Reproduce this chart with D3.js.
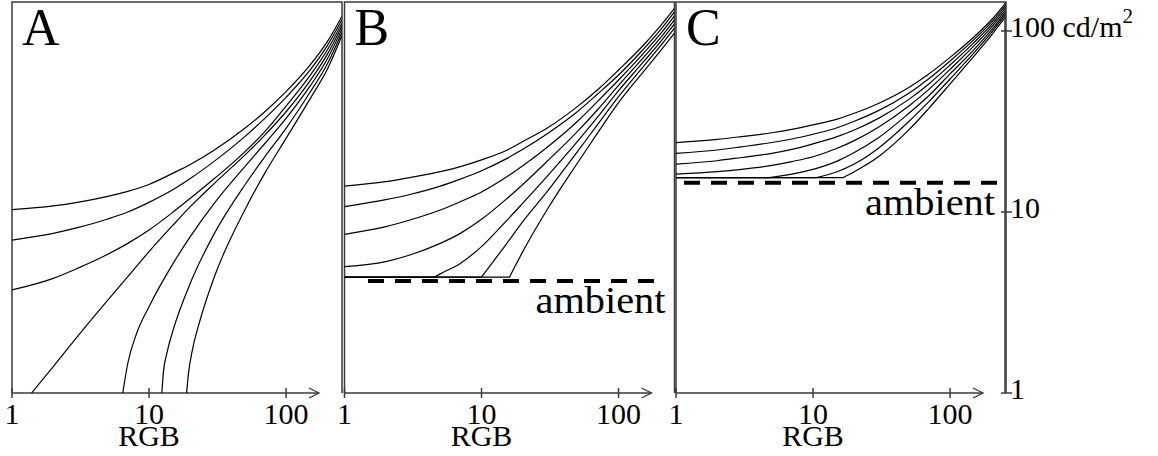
<!DOCTYPE html>
<html>
<head>
<meta charset="utf-8">
<script src="https://cdn.jsdelivr.net/npm/d3@7"></script>
<style>
  body { margin: 0; background: #fff; }
  text { font-family: "Liberation Serif", "Times New Roman", serif; fill: #000; }
</style>
</head>
<body>
<div id="chart"></div>
<script>
// tick values
const rgbTicks = [1, 10, 100];
const lumTicks = [1, 10, 100];
const panelNames = ["A", "B", "C"];

// ambient level per panel (cd/m2), null = none
const ambient = [null, 4.16, 14.5];

// curves: [RGB, cd/m2]
const curvesA = [
  [[1,10.3],[2,10.8],[3,11.3],[5,12.2],[7,13.0],[10,14.2],[15,16.4],[20,18.3],[30,22.0],[50,29.0],[70,35.8],[100,46.2],[150,64.9],[200,87.3],[255,120]],
  [[1,7.0],[2,7.62],[3,8.19],[5,9.15],[7,10.0],[10,11.3],[15,13.3],[20,15.3],[30,19.1],[50,26.1],[70,32.9],[100,43.0],[150,60.9],[200,83.0],[255,115]],
  [[1,3.71],[2,4.30],[3,4.88],[5,5.84],[7,6.71],[10,7.95],[15,10.0],[20,11.9],[30,15.3],[50,21.5],[70,27.8],[100,38.5],[150,56.9],[200,78.5],[255,110]],
  [[1.39,1],[2,1.40],[3,2.05],[5,3.26],[7,4.39],[10,6.04],[15,8.48],[20,10.7],[30,14.4],[50,20.6],[70,26.6],[100,35.8],[150,53.2],[200,74.3],[255,106]],
  [[6.43,1],[7,1.46],[8.13,2.14],[10,3.0],[15,5.2],[20,7.31],[30,11.2],[50,17.8],[70,23.9],[100,32.9],[150,49.7],[200,70.0],[255,102]],
  [[12.4,1],[12.7,1.28],[13.5,1.66],[15,2.23],[20,4.04],[30,7.62],[50,14.1],[70,20.2],[100,29.0],[150,46.0],[200,65.7],[255,97.9]],
  [[18.8,1],[19.4,1.28],[20.5,1.66],[23.6,2.53],[30,4.39],[50,10.26],[70,16.4],[100,25.5],[150,42.3],[200,61.4],[255,93.8]]
];

const curvesB = [
  [[1,13.9],[2,14.7],[3,15.5],[5,16.7],[7,17.8],[10,19.4],[15,21.8],[20,24.5],[30,29.0],[50,38.2],[70,47.2],[100,60.9],[150,82.6],[200,105.7],[255,133]],
  [[1,10.7],[2,11.7],[3,12.5],[5,13.9],[7,15.2],[10,16.9],[15,19.6],[20,22.2],[30,27.0],[50,35.8],[70,44.7],[100,57.1],[150,78.5],[200,100.4],[255,127]],
  [[1,7.53],[2,8.30],[3,9.03],[5,10.26],[7,11.4],[10,12.9],[15,15.5],[20,18.0],[30,22.7],[50,31.6],[70,40.7],[100,53.6],[150,74.6],[200,95.5],[255,121]],
  [[1,4.99],[2,5.32],[3,5.79],[5,6.71],[7,7.62],[10,9.11],[15,11.7],[20,14.2],[30,19.0],[50,27.8],[70,36.6],[100,50.1],[150,70.6],[200,90.7],[255,115]],
  [[1,4.37],[4.54,4.37],[5,4.55],[7,5.2],[10,6.44],[15,8.84],[20,11.2],[30,15.7],[50,24.5],[70,33.3],[100,46.8],[150,66.8],[200,86.2],[255,109]],
  [[1,4.37],[10,4.37],[15,6.57],[20,8.84],[30,12.9],[50,21.5],[70,30.3],[100,43.4],[150,63.0],[200,81.9],[255,103.5]],
  [[1,4.37],[16,4.37],[20,6.04],[30,10.26],[50,18.6],[70,27.2],[100,40.2],[150,58.9],[200,76.9],[255,97.1]]
];

const curvesC = [
  [[1,24.2],[2,25.2],[3,26.1],[5,27.4],[7,28.6],[10,30.3],[15,32.6],[20,35.1],[30,39.8],[50,48.8],[70,57.9],[100,71.5],[150,93.0],[200,115],[255,143]],
  [[1,21.1],[2,22.0],[3,22.9],[5,24.2],[7,25.3],[10,26.9],[15,29.2],[20,31.7],[30,36.3],[50,45.3],[70,54.5],[100,68.3],[150,89.9],[200,111.6],[255,139]],
  [[1,18.4],[2,19.2],[3,20.0],[5,21.1],[7,22.2],[10,23.8],[15,26.1],[20,28.4],[30,32.9],[50,41.9],[70,51.0],[100,64.9],[150,86.6],[200,108],[255,135]],
  [[1,16.2],[2,16.7],[3,17.2],[5,18.1],[7,19.0],[10,20.2],[15,22.5],[20,24.8],[30,29.4],[50,38.5],[70,47.6],[100,61.4],[150,83.0],[200,104.8],[255,131]],
  [[1,15.5],[4.8,15.5],[7,16.2],[10,17.2],[15,19.1],[20,21.3],[30,25.7],[50,35.1],[70,43.9],[100,57.9],[150,79.2],[200,101],[255,127]],
  [[1,15.5],[10.6,15.5],[15,16.7],[20,18.4],[30,22.5],[50,31.6],[70,40.7],[100,54.3],[150,75.9],[200,97.9],[255,123.6]],
  [[1,15.5],[16.6,15.5],[20,16.7],[30,20.2],[50,28.4],[70,37.4],[100,51.0],[150,72.8],[200,94.6],[255,120]]
];

const panelCurves = [curvesA, curvesB, curvesC];

// layout
const W = 1158, H = 456;
const panelLeft = [12, 344.5, 676];
const panelW = 330, topY = 2, baseY = 393;
const axisColor = "#3a3a3a";

const svg = d3.select("#chart").append("svg")
  .attr("width", W).attr("height", H);

const x = d3.scaleLog().domain([1, 256]).range([0, panelW]);
const y = d3.scaleLog().domain([1, 100]).range([baseY, 31]);

const smooth = d3.line().x(d => x(d[0])).y(d => y(d[1])).curve(d3.curveMonotoneX);
const straight = d3.line().x(d => x(d[0])).y(d => y(d[1]));

panelCurves.forEach((curves, i) => {
  const g = svg.append("g").attr("transform", `translate(${panelLeft[i]},0)`);

  g.append("clipPath").attr("id", "clip" + i)
    .append("rect").attr("x", 0).attr("y", topY).attr("width", panelW).attr("height", baseY - topY);

  // frame: left, top, right
  g.append("path")
    .attr("d", `M0,${baseY}V${topY}H${panelW}V${baseY}`)
    .attr("fill", "none").attr("stroke", axisColor).attr("stroke-width", 1.5);

  // x axis with arrow
  g.append("line").attr("x1", 0).attr("x2", 307).attr("y1", baseY).attr("y2", baseY)
    .attr("stroke", axisColor).attr("stroke-width", 1.5);
  g.append("path").attr("d", `M297,${baseY - 5}L307,${baseY}L297,${baseY + 5}`)
    .attr("fill", "none").attr("stroke", axisColor).attr("stroke-width", 1.3);

  g.selectAll(".tick").data(rgbTicks).join("line")
    .attr("x1", d => x(d)).attr("x2", d => x(d))
    .attr("y1", baseY - 5).attr("y2", baseY + 5)
    .attr("stroke", axisColor).attr("stroke-width", 1.5);
  g.selectAll(".tlabel").data(rgbTicks).join("text")
    .attr("x", d => x(d)).attr("y", 424)
    .attr("text-anchor", "middle").style("font-size", "30px")
    .text(d => d);
  g.append("text").attr("x", 137).attr("y", 446)
    .attr("text-anchor", "middle").style("font-size", "30px").text("RGB");

  g.append("text").attr("x", 10).attr("y", 45)
    .style("font-size", "52px").text(panelNames[i]);

  // curves
  const cg = g.append("g").attr("clip-path", `url(#clip${i})`);
  curves.forEach(c => {
    let d;
    if (c[0][1] === c[1][1]) {
      d = straight(c.slice(0, 2)) + smooth(c.slice(1)).replace(/^M/, "L");
    } else {
      d = smooth(c);
    }
    cg.append("path").attr("d", d)
      .attr("fill", "none").attr("stroke", "#000").attr("stroke-width", 1.2);
  });

  // ambient
  if (ambient[i] !== null) {
    const x1 = i === 1 ? 23.5 : 8;
    const x2 = i === 1 ? 310.5 : 324;
    g.append("line").attr("x1", x1).attr("x2", x2)
      .attr("y1", y(ambient[i])).attr("y2", y(ambient[i]))
      .attr("stroke", "#000").attr("stroke-width", 4)
      .attr("stroke-dasharray", "16 11");
    g.append("text")
      .attr("x", i === 1 ? 321 : 319)
      .attr("y", y(ambient[i]) + 32)
      .attr("text-anchor", "end")
      .attr("textLength", 130).attr("lengthAdjust", "spacingAndGlyphs")
      .style("font-size", "37px").text("ambient");
  }
});

// right luminance axis
const ax = 1005;
svg.append("line").attr("x1", ax).attr("x2", ax).attr("y1", topY).attr("y2", baseY)
  .attr("stroke", axisColor).attr("stroke-width", 1.5);
svg.selectAll(".ytick").data(lumTicks).join("line")
  .attr("x1", ax - 4).attr("x2", ax + 7)
  .attr("y1", d => y(d)).attr("y2", d => y(d))
  .attr("stroke", axisColor).attr("stroke-width", 1.5);
const yl = svg.selectAll(".ylabel").data(lumTicks).join("text")
  .attr("x", 1010).attr("y", d => y(d) + 6)
  .style("font-size", "30px");
yl.append("tspan").text(d => d === 100 ? "100 cd/m" : d);
yl.filter(d => d === 100).append("tspan")
  .attr("dy", -14).style("font-size", "21px").text("2");
</script>
</body>
</html>
